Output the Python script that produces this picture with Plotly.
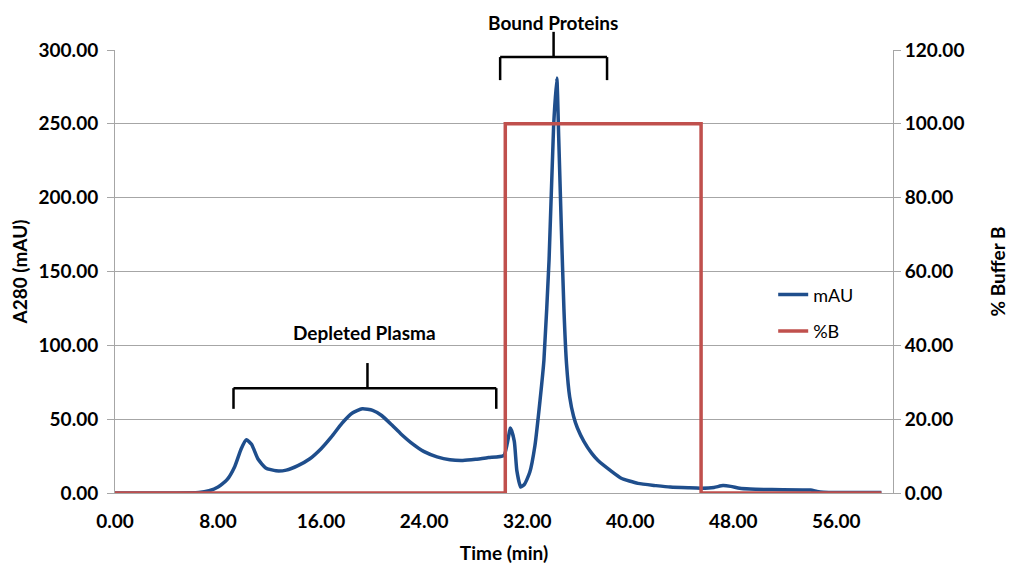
import plotly.graph_objects as go

# --- data ---
time_min = [0, 4, 6.5, 7.3, 8.0, 8.7, 9.3, 9.8, 10.2, 10.6, 11.1, 11.7, 12.5, 13.3, 14.2,
            15.1, 16.0, 16.8, 17.6, 18.4, 19.2, 20.0, 20.7, 21.5, 22.2, 23.0, 24.0, 25.0,
            26.0, 27.0, 28.0, 29.0, 30.2, 30.7, 31.0, 31.2, 31.5, 31.8, 32.2, 32.6, 33.0,
            33.3, 33.7, 34.05, 34.3, 34.45, 34.65, 34.85, 35.05, 35.3, 35.6, 35.9, 36.4,
            37.0, 37.5, 38.5, 39.3, 40.6, 42.0, 43.1, 44.5, 45.5, 46.5, 47.2, 47.8, 48.5,
            49.3, 51.0, 54.0, 54.5, 55.0, 59.5]
mau = [0, 0, 0.3, 1.5, 4, 9, 18, 30, 36, 33, 23, 17, 15, 15.5, 18.5,
       23, 30, 38, 47, 54, 57, 56, 52.5, 46, 40, 34, 28, 24.5,
       22.5, 22, 22.8, 24, 25.5, 44, 35, 15, 4, 6, 14, 32, 63,
       90, 158, 248, 281, 240, 180, 125, 88, 65, 52, 44, 35,
       27, 22, 15, 10, 6.5, 5, 4, 3.5, 3.3, 3.8, 5, 4.5, 3.2,
       2.7, 2.3, 2, 1, 0.5, 0.3]

b_time = [0, 30.3, 30.3, 45.5, 45.5, 59.5]
pct_b = [0, 0, 100, 100, 0, 0]

x_ticks = [0, 8, 16, 24, 32, 40, 48, 56]
y_left_ticks = [0, 50, 100, 150, 200, 250, 300]
y_right_ticks = [0, 20, 40, 60, 80, 100, 120]

blue = "#1F4E8C"
red = "#C0504D"
grid = "#A6A6A6"
FONT = "Lato"

fig = go.Figure()
fig.add_trace(go.Scatter(x=time_min, y=mau, name="mAU", mode="lines",
                         line=dict(color=blue, width=3.5, shape="spline", smoothing=0.5),
                         legendgroup="a"))
fig.add_trace(go.Scatter(x=b_time, y=pct_b, name="%B", mode="lines", yaxis="y2",
                         line=dict(color=red, width=3.5), legendgroup="b"))

fig.update_layout(
    width=1021, height=573,
    margin=dict(l=107, r=136, t=42, b=88),
    paper_bgcolor="white", plot_bgcolor="white",
    font=dict(family=FONT, size=19, color="black"),
    xaxis=dict(range=[0, 60.4], tickvals=x_ticks, tickformat=".2f",
               showline=True, linecolor=grid, linewidth=1, showgrid=False,
               ticks="outside", ticklen=11, tickcolor="rgba(0,0,0,0)", zeroline=False,
               tickfont=dict(family=FONT, size=19, weight="bold"),
               title=dict(text="Time (min)", font=dict(family=FONT, size=19, weight="bold"),
                          standoff=15)),
    yaxis=dict(range=[0, 300], tickvals=y_left_ticks, tickformat=".2f",
               showline=True, linecolor=grid, linewidth=1,
               showgrid=True, gridcolor=grid, gridwidth=1,
               ticks="outside", ticklen=7, tickcolor=grid, zeroline=False,
               ticklabelstandoff=5,
               tickfont=dict(family=FONT, size=19, weight="bold"),
               title=dict(text="A280 (mAU)", font=dict(family=FONT, size=19, weight="bold"),
                          standoff=6)),
    yaxis2=dict(range=[0, 120], tickvals=y_right_ticks, tickformat=".2f",
                overlaying="y", side="right",
                showline=True, linecolor=grid, linewidth=1, showgrid=False,
                ticks="outside", ticklen=7, tickcolor=grid, zeroline=False,
                tickfont=dict(family=FONT, size=19, weight="bold"),
                title=dict(text="% Buffer B", font=dict(family=FONT, size=19, weight="bold"),
                           standoff=28)),
    legend=dict(x=0.846, y=0.489, xanchor="left", yanchor="top",
                bgcolor="rgba(0,0,0,0)", traceorder="grouped", tracegroupgap=10,
                font=dict(family=FONT, size=18)),
)

# Bracket for Depleted Plasma (data coords)
bk = dict(color="black", width=2.5)
fig.add_shape(type="line", xref="x", yref="y", x0=9.2, x1=29.6, y0=71, y1=71, line=bk)
fig.add_shape(type="line", xref="x", yref="y", x0=9.2, x1=9.2, y0=71, y1=57, line=bk)
fig.add_shape(type="line", xref="x", yref="y", x0=29.6, x1=29.6, y0=71, y1=57, line=bk)
fig.add_shape(type="line", xref="x", yref="y", x0=19.6, x1=19.6, y0=71, y1=88, line=bk)
fig.add_annotation(x=19.4, y=109, xref="x", yref="y", text="Depleted Plasma",
                   showarrow=False, xanchor="center", yanchor="middle",
                   font=dict(family=FONT, size=19, weight="bold"))

# Bracket for Bound Proteins (x data, y paper)
fig.add_shape(type="line", xref="x", yref="paper", x0=29.9, x1=38.2, y0=0.984, y1=0.984, line=bk)
fig.add_shape(type="line", xref="x", yref="paper", x0=29.9, x1=29.9, y0=0.984, y1=0.932, line=bk)
fig.add_shape(type="line", xref="x", yref="paper", x0=38.2, x1=38.2, y0=0.984, y1=0.932, line=bk)
fig.add_shape(type="line", xref="x", yref="paper", x0=34.05, x1=34.05, y0=0.984, y1=1.041, line=bk)
fig.add_annotation(x=34.0, y=1.063, xref="x", yref="paper", text="Bound Proteins",
                   showarrow=False, xanchor="center", yanchor="middle",
                   font=dict(family=FONT, size=19, weight="bold"))

fig.write_html("out.html")
